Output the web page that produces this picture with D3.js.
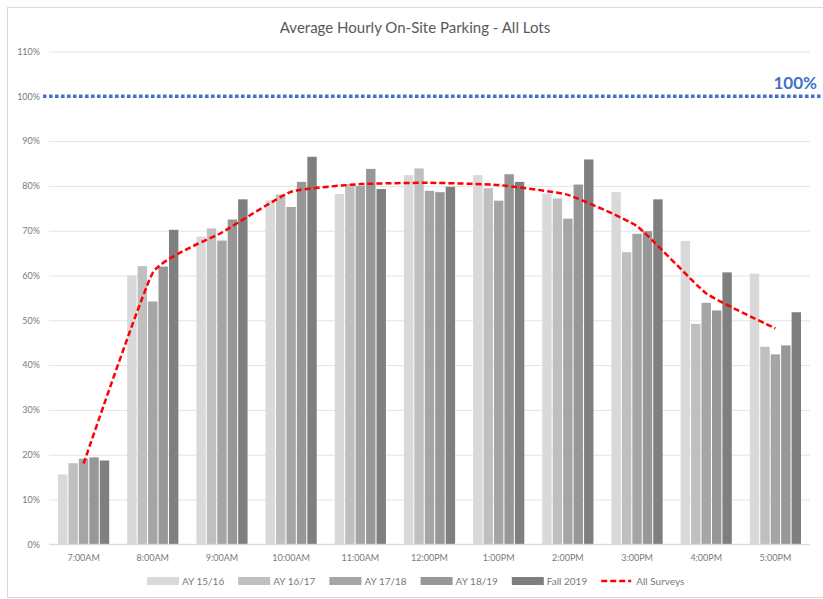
<!DOCTYPE html>
<html>
<head>
<meta charset="utf-8">
<script src="https://cdn.jsdelivr.net/npm/d3@7"></script>
<style>
  html, body { margin: 0; padding: 0; background: #ffffff; }
  svg { display: block; }
  text { font-family: Lato, "Open Sans", sans-serif; }
</style>
</head>
<body>
<svg id="chart" width="823" height="599"></svg>
<script>
// Hour-of-day categories on the x axis
const hours = ["7:00AM", "8:00AM", "9:00AM", "10:00AM", "11:00AM", "12:00PM",
               "1:00PM", "2:00PM", "3:00PM", "4:00PM", "5:00PM"];

// Survey series (percent occupancy per hour)
const seriesNames = ["AY 15/16", "AY 16/17", "AY 17/18", "AY 18/19", "Fall 2019"];
const ay1516   = [15.6, 60.0, 68.7, 76.8, 78.2, 82.4, 82.4, 78.3, 78.6, 67.7, 60.4];
const ay1617   = [18.1, 62.1, 70.5, 78.1, 80.4, 83.9, 79.5, 77.2, 65.2, 49.2, 44.1];
const ay1718   = [19.1, 54.2, 67.8, 75.3, 80.0, 78.9, 76.7, 72.7, 69.3, 53.9, 42.4];
const ay1819   = [19.4, 62.0, 72.5, 80.9, 83.8, 78.6, 82.6, 80.3, 69.9, 52.2, 44.4];
const fall2019 = [18.7, 70.2, 77.0, 86.5, 79.3, 79.8, 80.9, 85.9, 77.0, 60.7, 51.8];

// Average across all surveys
const allSurveys = [18.0, 60.6, 69.6, 78.7, 80.4, 80.7, 80.2, 78.0, 71.0, 56.0, 48.2];

// Axis ticks and capacity reference
const yTicks = [0, 10, 20, 30, 40, 50, 60, 70, 80, 90, 100, 110];
const capacity = 100;

const seriesValues = [ay1516, ay1617, ay1718, ay1819, fall2019];
const seriesColors = ["#d9d9d9", "#bfbfbf", "#a5a5a5", "#979797", "#7f7f7f"];

const svg = d3.select("#chart");

// Outer chart frame
svg.append("rect")
  .attr("x", 7.5).attr("y", 7.5)
  .attr("width", 830).attr("height", 590)
  .attr("fill", "#ffffff")
  .attr("stroke", "#d9d9d9").attr("stroke-width", 1);

const plot = { left: 49, right: 810, top: 51.5, bottom: 544.3 };

const x = d3.scaleBand()
  .domain(hours)
  .range([plot.left, plot.right])
  .paddingInner(0.26)
  .paddingOuter(0.13);

const xInner = d3.scaleBand()
  .domain(seriesNames)
  .range([0, x.bandwidth()])
  .paddingInner(0.1);

const y = d3.scaleLinear()
  .domain([0, 110])
  .range([plot.bottom, plot.top]);

// Title
svg.append("text")
  .attr("x", 415).attr("y", 33)
  .attr("text-anchor", "middle")
  .attr("font-size", 15)
  .attr("fill", "#595959")
  .text("Average Hourly On-Site Parking - All Lots");

// Horizontal gridlines + y tick labels
const yAxis = d3.axisLeft(y)
  .tickValues(yTicks)
  .tickFormat(d => d + "%")
  .tickSize(-(plot.right - plot.left))
  .tickPadding(9);

const gy = svg.append("g")
  .attr("transform", `translate(${plot.left},0)`)
  .call(yAxis);
gy.select(".domain").remove();
gy.selectAll(".tick line").attr("stroke", "#e3e3e3").attr("stroke-width", 1);
gy.selectAll(".tick text")
  .attr("fill", "#7a7a7a")
  .attr("font-size", 9)
  .attr("font-family", "Lato, 'Open Sans', sans-serif");

// Grouped bars
const groups = svg.append("g").selectAll("g")
  .data(hours)
  .join("g")
  .attr("transform", d => `translate(${x(d)},0)`);

groups.selectAll("rect")
  .data((h, i) => seriesValues.map((vals, s) => ({ name: seriesNames[s], value: vals[i], s })))
  .join("rect")
  .attr("x", d => xInner(d.name))
  .attr("width", xInner.bandwidth())
  .attr("y", d => y(d.value))
  .attr("height", d => y(0) - y(d.value))
  .attr("fill", d => seriesColors[d.s]);

// Baseline
svg.append("line")
  .attr("x1", plot.left).attr("x2", plot.right)
  .attr("y1", y(0)).attr("y2", y(0))
  .attr("stroke", "#d9d9d9").attr("stroke-width", 1);

// x axis labels
const xAxis = d3.axisBottom(x).tickSize(0).tickPadding(10);
const gx = svg.append("g")
  .attr("transform", `translate(0,${y(0)})`)
  .call(xAxis);
gx.select(".domain").remove();
gx.selectAll(".tick text")
  .attr("fill", "#7a7a7a")
  .attr("font-size", 9)
  .attr("font-family", "Lato, 'Open Sans', sans-serif");

// Average line across all surveys (lightly smoothed)
const line = d3.line()
  .x((d, i) => x(hours[i]) + x.bandwidth() / 2)
  .y(d => y(d))
  .curve(d3.curveCardinal.tension(0.6));

svg.append("path")
  .datum(allSurveys)
  .attr("d", line)
  .attr("fill", "none")
  .attr("stroke", "#ff0000")
  .attr("stroke-width", 2.5)
  .attr("stroke-dasharray", "6,3");

// 100% capacity reference line
svg.append("line")
  .attr("x1", 43).attr("x2", 823)
  .attr("y1", y(capacity)).attr("y2", y(capacity))
  .attr("stroke", "#4472c4")
  .attr("stroke-width", 3.5)
  .attr("stroke-dasharray", "3.5,2.5");

svg.append("text")
  .attr("x", 817).attr("y", 89)
  .attr("text-anchor", "end")
  .attr("font-size", 17)
  .attr("font-weight", "bold")
  .attr("fill", "#4472c4")
  .text(capacity + "%");

// Legend
const legendItems = seriesNames.map((n, i) => ({ name: n, color: seriesColors[i], type: "bar" }))
  .concat([{ name: "All Surveys", color: "#ff0000", type: "line" }]);

const legend = svg.append("g").attr("transform", "translate(0,581)");
let lx = 147;
legendItems.forEach(item => {
  const g = legend.append("g").attr("transform", `translate(${lx},0)`);
  if (item.type === "bar") {
    g.append("rect")
      .attr("x", 0).attr("y", -4)
      .attr("width", 32).attr("height", 8)
      .attr("fill", item.color);
  } else {
    g.append("line")
      .attr("x1", 0).attr("x2", 30)
      .attr("y1", 0).attr("y2", 0)
      .attr("stroke", item.color)
      .attr("stroke-width", 2.5)
      .attr("stroke-dasharray", "6,3");
  }
  const t = g.append("text")
    .attr("x", 35).attr("y", 3.5)
    .attr("font-size", 10)
    .attr("fill", "#7a7a7a")
    .text(item.name);
  lx += 35 + t.node().getComputedTextLength() + 14;
});
</script>
</body>
</html>
